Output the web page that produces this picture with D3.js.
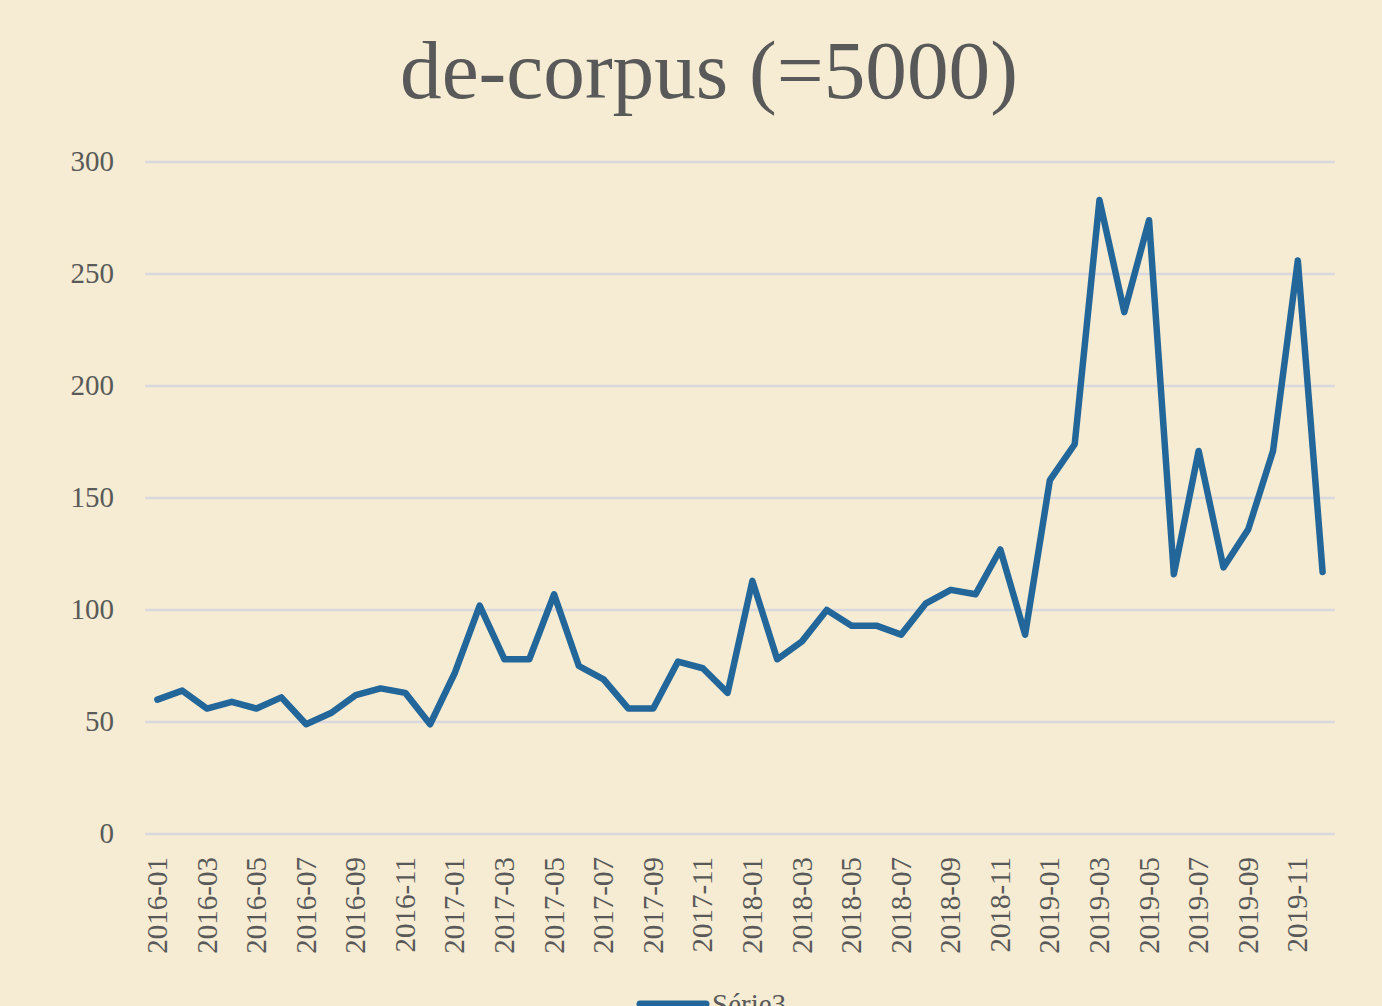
<!DOCTYPE html>
<html>
<head>
<meta charset="utf-8">
<script src="https://cdn.jsdelivr.net/npm/d3@7"></script>
<style>
  body { margin: 0; background: #f5ecd3; }
  svg { display: block; }
</style>
</head>
<body>
<div id="chart"></div>
<script>
const WIDTH = 1382;
const HEIGHT = 1006;
const PLOT = {left: 145, right: 1335, top: 162, bottom: 834};

const months = [
  "2016-01","2016-02","2016-03","2016-04","2016-05","2016-06","2016-07","2016-08","2016-09","2016-10","2016-11","2016-12",
  "2017-01","2017-02","2017-03","2017-04","2017-05","2017-06","2017-07","2017-08","2017-09","2017-10","2017-11","2017-12",
  "2018-01","2018-02","2018-03","2018-04","2018-05","2018-06","2018-07","2018-08","2018-09","2018-10","2018-11","2018-12",
  "2019-01","2019-02","2019-03","2019-04","2019-05","2019-06","2019-07","2019-08","2019-09","2019-10","2019-11","2019-12"
];
const serie3 = [
  60, 64, 56, 59, 56, 61, 49, 54, 62, 65, 63, 49,
  72, 102, 78, 78, 107, 75, 69, 56, 56, 77, 74, 63,
  113, 78, 86, 100, 93, 93, 89, 103, 109, 107, 127, 89,
  158, 174, 283, 233, 274, 116, 171, 119, 136, 171, 256, 117
];
const yTicks = [0, 50, 100, 150, 200, 250, 300];
const title = "de-corpus (=5000)";
const seriesName = "Série3";

const TEXT = "#595959";
const LINE = "#22669a";
const GRID = "#d9d8dc";
const FONT = "'Liberation Serif', 'DejaVu Serif', serif";

const svg = d3.select("#chart").append("svg")
    .attr("width", WIDTH)
    .attr("height", HEIGHT);

svg.append("rect")
    .attr("width", WIDTH)
    .attr("height", HEIGHT)
    .attr("fill", "#f5ecd3");

const X = d3.scaleBand().domain(months).range([PLOT.left, PLOT.right]);
const Y = d3.scaleLinear().domain([0, 300]).range([PLOT.bottom, PLOT.top]);
const cx = (m) => X(m) + X.bandwidth() / 2;

// gridlines
svg.append("g")
  .selectAll("line")
  .data(yTicks)
  .enter()
  .append("line")
    .attr("x1", PLOT.left)
    .attr("x2", PLOT.right)
    .attr("y1", (d) => Y(d))
    .attr("y2", (d) => Y(d))
    .attr("stroke", GRID)
    .attr("stroke-width", 2.5);

// y axis labels
const yAxis = svg.append("g")
    .attr("transform", "translate(" + (PLOT.left - 31) + ",0)")
    .call(d3.axisLeft(Y).tickValues(yTicks).tickSize(0).tickPadding(0));
yAxis.select(".domain").remove();
yAxis.selectAll("text")
    .attr("font-family", FONT)
    .attr("font-size", 29)
    .attr("fill", TEXT)
    .attr("dy", "0.3em");

// x axis labels
const xLabels = months.filter((m, i) => i % 2 === 0);
const xAxis = svg.append("g")
    .attr("transform", "translate(0," + PLOT.bottom + ")")
    .call(d3.axisBottom(X).tickValues(xLabels).tickSize(0).tickPadding(0));
xAxis.select(".domain").remove();
xAxis.selectAll("text")
    .attr("font-family", FONT)
    .attr("font-size", 29)
    .attr("fill", TEXT)
    .attr("text-anchor", "end")
    .attr("transform", "rotate(-90)")
    .attr("x", -23)
    .attr("y", 0)
    .attr("dy", "0.33em");

// series line
svg.append("path")
    .datum(serie3)
    .attr("fill", "none")
    .attr("stroke", LINE)
    .attr("stroke-width", 6.5)
    .attr("stroke-linejoin", "round")
    .attr("stroke-linecap", "round")
    .attr("d", d3.line()
        .x((d, i) => cx(months[i]))
        .y((d) => Y(d)));

// title
const t = svg.append("text")
    .attr("x", 709)
    .attr("y", 98)
    .attr("text-anchor", "middle")
    .attr("font-family", FONT)
    .attr("font-size", 80)
    .attr("fill", TEXT)
    .text(title);
const tw = t.node().getComputedTextLength();
t.attr("font-size", 80 * 618 / tw);

// legend (cut off at the bottom)
svg.append("line")
    .attr("x1", 640)
    .attr("x2", 706)
    .attr("y1", 1004)
    .attr("y2", 1004)
    .attr("stroke", LINE)
    .attr("stroke-width", 7)
    .attr("stroke-linecap", "round");
svg.append("text")
    .attr("x", 712)
    .attr("y", 1014)
    .attr("font-family", FONT)
    .attr("font-size", 29)
    .attr("fill", TEXT)
    .text(seriesName);
</script>
</body>
</html>
